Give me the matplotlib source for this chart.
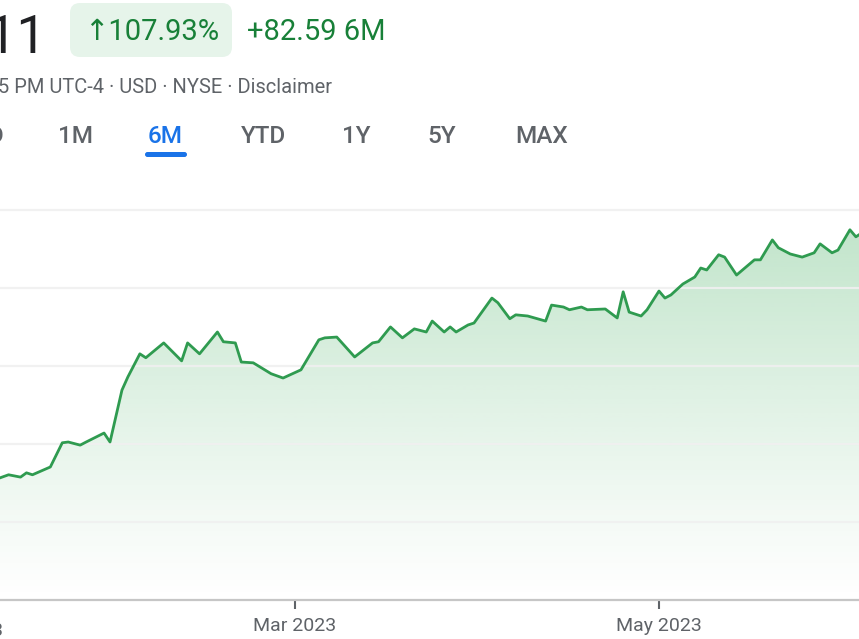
import matplotlib
matplotlib.use("Agg")
import matplotlib.pyplot as plt
import matplotlib.dates as mdates
from matplotlib.patches import FancyBboxPatch, Polygon
from matplotlib.transforms import IdentityTransform
from matplotlib.colors import to_rgb
import numpy as np
import pandas as pd

plt.rcParams['font.family'] = ['Roboto', 'DejaVu Sans']

# ---------------- data ----------------
dates = [
    '2023-01-10', '2023-01-12', '2023-01-14', '2023-01-15', '2023-01-16', '2023-01-19',
    '2023-01-21', '2023-01-22', '2023-01-24', '2023-01-25', '2023-01-28', '2023-01-29',
    '2023-01-31', '2023-02-01', '2023-02-03', '2023-02-04', '2023-02-07', '2023-02-10',
    '2023-02-11', '2023-02-13', '2023-02-16', '2023-02-17', '2023-02-19', '2023-02-20',
    '2023-02-22', '2023-02-25', '2023-02-27', '2023-03-02', '2023-03-05', '2023-03-06',
    '2023-03-08', '2023-03-11', '2023-03-14', '2023-03-15', '2023-03-17', '2023-03-19',
    '2023-03-21', '2023-03-23', '2023-03-24', '2023-03-26', '2023-03-27', '2023-03-28',
    '2023-03-30', '2023-03-31', '2023-04-03', '2023-04-04', '2023-04-06', '2023-04-07',
    '2023-04-09', '2023-04-12', '2023-04-13', '2023-04-15', '2023-04-16', '2023-04-18',
    '2023-04-19', '2023-04-22', '2023-04-24', '2023-04-25', '2023-04-26', '2023-04-28',
    '2023-04-29', '2023-05-01', '2023-05-02', '2023-05-03', '2023-05-05', '2023-05-07',
    '2023-05-08', '2023-05-09', '2023-05-11', '2023-05-12', '2023-05-14', '2023-05-17',
    '2023-05-18', '2023-05-20', '2023-05-21', '2023-05-23', '2023-05-25', '2023-05-27',
    '2023-05-28', '2023-05-30', '2023-05-31', '2023-06-02', '2023-06-03', '2023-06-04',
]
prices = [
    91.0, 92.1, 91.5, 92.6, 92.1, 94.1,
    100.3, 100.5, 99.7, 100.5, 102.8, 100.5,
    113.8, 117.2, 123.1, 122.1, 125.9, 121.3,
    125.9, 123.1, 128.7, 126.2, 125.9, 121.0,
    120.8, 118.0, 116.9, 119.0, 126.7, 127.2,
    127.4, 122.3, 125.9, 126.2, 130.0, 127.2,
    129.5, 128.7, 131.5, 128.7, 130.0, 128.7,
    130.5, 131.0, 137.4, 136.2, 132.1, 133.1,
    132.8, 131.5, 135.6, 135.1, 134.4, 135.1,
    134.4, 134.6, 132.3, 139.0, 133.8, 132.8,
    134.4, 139.2, 137.4, 138.2, 141.0, 142.8,
    145.1, 144.6, 148.5, 147.9, 143.3, 147.2,
    147.2, 152.3, 150.3, 148.7, 147.9, 149.0,
    151.3, 149.0, 149.7, 154.9, 153.1, 154.1,
]
grid_values = [80, 100, 120, 140, 160]
tick_dates = ['2023-03-01', '2023-05-01']
tick_labels = ['Mar 2023', 'May 2023']
view_start = '2023-01-10 13:30'
view_end = '2023-06-03 12:30'
y_bottom, y_top = 60, 165.1

price_text = '159.11'
pct_text = '\u2191107.93%'
change_text = '+82.59 6M'
info_text = '5 PM UTC-4 \u00b7 USD \u00b7 NYSE \u00b7 Disclaimer'
tabs = ['5D', '1M', '6M', 'YTD', '1Y', '5Y', 'MAX']
active_tab = '6M'

# ---------------- figure ----------------
W, H = 859, 639
fig = plt.figure(figsize=(W / 100, H / 100), dpi=100)
fig.patch.set_facecolor('white')

def fx(px):
    return px / W

def fy(py):
    return 1 - py / H

ax = fig.add_axes([0, fy(600), 1, (600 - 190) / H])
ax.set_facecolor('white')

x = mdates.date2num(pd.to_datetime(dates))
y = np.array(prices)
x0 = mdates.date2num(pd.Timestamp(view_start))
x1 = mdates.date2num(pd.Timestamp(view_end))

# gradient fill under line
green = '#34a853'
grad = np.zeros((256, 1, 4))
grad[:, 0, :3] = to_rgb(green)
grad[:, 0, 3] = np.linspace(0.37, 0.0, 256) ** 1.1
im = ax.imshow(grad, extent=[x[0], x[-1], y_bottom, y_top], aspect='auto',
               origin='upper', zorder=1, interpolation='bilinear')
verts = np.column_stack([np.r_[x, x[-1], x[0]], np.r_[y, y_bottom, y_bottom]])
clip = Polygon(verts, closed=True, transform=ax.transData, facecolor='none', edgecolor='none')
ax.add_patch(clip)
im.set_clip_path(clip)

for gv in grid_values:
    ax.axhline(gv, color='#f0f0f0', lw=1.6, zorder=1.5, alpha=0.9)

ax.plot(x, y, color='#2f9b50', lw=2.0, zorder=3, solid_joinstyle='round',
        solid_capstyle='round')

ax.set_xlim(x0, x1)
ax.set_ylim(y_bottom, y_top)

for s in ['top', 'left', 'right']:
    ax.spines[s].set_visible(False)
ax.spines['bottom'].set_color('#c6c6c6')
ax.spines['bottom'].set_linewidth(1.6)
ax.set_yticks([])
ax.set_xticks(mdates.date2num(pd.to_datetime(tick_dates)))
ax.set_xticklabels(tick_labels)
ax.tick_params(axis='x', length=6.5, width=1.5, color='#5f6368', labelsize=14,
               labelcolor='#5f6368', pad=6)

# partially visible left label
fig.text(fx(3), fy(636), 'Jan 2023', ha='right', va='baseline', fontsize=14, color='#5f6368')

# ---------------- header ----------------
ident = IdentityTransform()
fig.text(fx(47), fy(53), price_text, ha='right', va='baseline', fontsize=38,
         color='#202124')

pill = FancyBboxPatch((70, H - 57), 162, 54, boxstyle='round,pad=0,rounding_size=10',
                      facecolor='#e6f4ea', edgecolor='none', transform=ident)
fig.add_artist(pill)
fig.text(fx(84), fy(40), pct_text, ha='left', va='baseline', fontsize=21, color='#188038')
fig.text(fx(247), fy(40), change_text, ha='left', va='baseline', fontsize=21, color='#188038')

fig.text(fx(-2), fy(93), info_text, ha='left', va='baseline', fontsize=14.5, color='#5f6368')

tab_centers = {'1M': 75, '6M': 165.5, 'YTD': 264, '1Y': 356.5, '5Y': 441.5, 'MAX': 541.5}
for t in tabs:
    col = '#1a73e8' if t == active_tab else '#5f6368'
    if t in tab_centers:
        fig.text(fx(tab_centers[t]), fy(143), t, ha='center', va='baseline', fontsize=17.5,
                 color=col, fontweight='medium')
    else:
        fig.text(fx(4), fy(143), t, ha='right', va='baseline', fontsize=17.5,
                 color=col, fontweight='medium')

underline = FancyBboxPatch((145, H - 157), 42, 5, boxstyle='round,pad=0,rounding_size=2.5',
                           facecolor='#1a73e8', edgecolor='none', transform=ident)
fig.add_artist(underline)

fig.savefig('out.png', dpi=100, facecolor='white')
